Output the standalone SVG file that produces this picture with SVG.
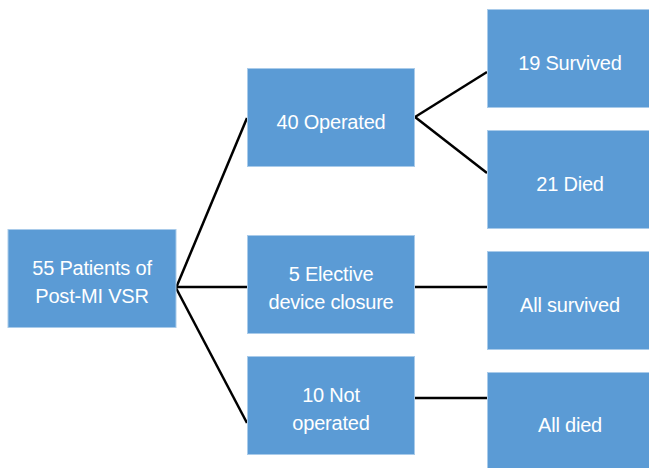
<svg xmlns="http://www.w3.org/2000/svg" width="649" height="468" viewBox="0 0 649 468">
<style>
.box{fill:#5B9BD5;stroke:#A9CBEA;stroke-width:1}
.t{font-family:"Liberation Sans",Arial,sans-serif;font-size:20px;fill:#FFFFFF;text-anchor:middle;letter-spacing:-0.2px}
.c{stroke:#000;stroke-width:2.5;fill:none}
</style>
<rect width="649" height="468" fill="#fff"/>
<g id="connectors">
<line class="c" x1="176" y1="288" x2="247" y2="118"/>
<line class="c" x1="176" y1="287" x2="247" y2="287"/>
<line class="c" x1="176" y1="288" x2="247" y2="423"/>
<line class="c" x1="415" y1="117" x2="487" y2="72"/>
<line class="c" x1="415" y1="117" x2="487" y2="173"/>
<line class="c" x1="415" y1="287" x2="487" y2="287"/>
<line class="c" x1="415" y1="398" x2="487" y2="398"/>
</g>
<g id="root"><rect class="box" x="8" y="229.5" width="168" height="98"/><text class="t" x="92" y="275">55 Patients of</text><text class="t" x="92" y="303">Post-MI VSR</text></g>
<g id="operated"><rect class="box" x="247.5" y="68.5" width="167" height="98"/><text class="t" x="331" y="129">40 Operated</text></g>
<g id="elective"><rect class="box" x="247.5" y="235.5" width="167" height="98"/><text class="t" x="331" y="281">5 Elective</text><text class="t" x="331" y="309">device closure</text></g>
<g id="notoperated"><rect class="box" x="247.5" y="356.5" width="167" height="98"/><text class="t" x="331" y="402">10 Not</text><text class="t" x="331" y="430">operated</text></g>
<g id="survived19"><rect class="box" x="487.5" y="9.5" width="166" height="98"/><text class="t" x="570" y="70">19 Survived</text></g>
<g id="died21"><rect class="box" x="487.5" y="130.5" width="166" height="98"/><text class="t" x="570" y="191">21 Died</text></g>
<g id="allsurvived"><rect class="box" x="487.5" y="251.5" width="166" height="98"/><text class="t" x="570" y="312">All survived</text></g>
<g id="alldied"><rect class="box" x="487.5" y="372.5" width="166" height="100"/><text class="t" x="570" y="432">All died</text></g>
</svg>
